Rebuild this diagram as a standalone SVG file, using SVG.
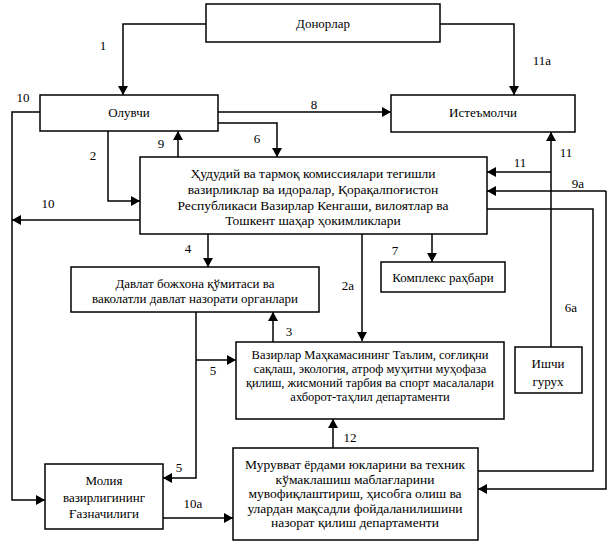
<svg xmlns="http://www.w3.org/2000/svg" width="613" height="548" viewBox="0 0 613 548">
<defs>
<marker id="ah" markerWidth="10" markerHeight="10" refX="9" refY="5" orient="auto-start-reverse" markerUnits="userSpaceOnUse">
<path d="M0,0 L9,5 L0,10 Z" fill="#000"/>
</marker>
<style>
.box{fill:#fff;stroke:#000;stroke-width:1.5}
text{fill:#000;text-anchor:middle}
.c{fill:none;stroke:#000;stroke-width:1.5}
.a{marker-end:url(#ah)}
</style>
</defs>
<rect width="613" height="548" fill="#fff"/>
<g id="connectors">
<path class="c a" d="M206,24 H123 V95"/>
<path class="c a" d="M440,24 H514 V95"/>
<path class="c a" d="M218,112 H391"/>
<path class="c a" d="M40,112 H12 V500 H45"/>
<path class="c a" d="M218,123 H277 V157"/>
<path class="c a" d="M108,131 V201 H140"/>
<path class="c a" d="M178,157 V131"/>
<path class="c a" d="M140,220 H12"/>
<path class="c a" d="M208,234 V267"/>
<path class="c a" d="M432,234 V262"/>
<path class="c a" d="M362,234 V341"/>
<path class="c a" d="M551,347 V132"/>
<path class="c a" d="M551,172 H487"/>
<path class="c a" d="M606,191 H487"/>
<path class="c a" d="M606,191 V489 H478"/>
<path class="c" d="M487,209 H593 V471 H478"/>
<path class="c a" d="M273,342 V312"/>
<path class="c a" d="M196,312 V478 H163"/>
<path class="c a" d="M196,360 H236"/>
<path class="c a" d="M163,518 H233"/>
<path class="c a" d="M333,448 V419"/>
</g>
<g id="labels" font-family="Liberation Serif, DejaVu Serif, serif" font-size="13">
<text x="103" y="50">1</text>
<text x="542" y="65">11а</text>
<text x="23" y="102">10</text>
<text x="314" y="109">8</text>
<text x="257" y="143">6</text>
<text x="161" y="148">9</text>
<text x="93" y="160">2</text>
<text x="520" y="167">11</text>
<text x="566" y="157">11</text>
<text x="578" y="188">9а</text>
<text x="48" y="208">10</text>
<text x="188" y="253">4</text>
<text x="395" y="255">7</text>
<text x="348" y="290">2а</text>
<text x="571" y="312">6а</text>
<text x="289" y="336">3</text>
<text x="213" y="375">5</text>
<text x="350" y="442">12</text>
<text x="179" y="472">5</text>
<text x="193" y="508">10а</text>
</g>
<g font-family="Liberation Serif, DejaVu Serif, serif" font-size="13">
<g id="donorlar">
<rect class="box" x="206" y="4" width="234" height="38"/>
<text x="323" y="28">Донорлар</text>
</g>
<g id="oluvchi">
<rect class="box" x="40" y="95" width="178" height="36"/>
<text x="129" y="117">Олувчи</text>
</g>
<g id="istemolchi">
<rect class="box" x="391" y="95" width="184" height="37"/>
<text x="483" y="117">Истеъмолчи</text>
</g>
<g id="hududiy" font-size="13.5">
<rect class="box" x="140" y="157" width="347" height="77"/>
<text x="313" y="178">Ҳудудий ва тармоқ комиссиялари тегишли</text>
<text x="313" y="194">вазирликлар ва идоралар, Қорақалпоғистон</text>
<text x="313" y="210">Республикаси Вазирлар Кенгаши, вилоятлар ва</text>
<text x="313" y="225">Тошкент шаҳар ҳокимликлари</text>
</g>
<g id="davlat">
<rect class="box" x="71" y="267" width="248" height="45"/>
<text x="195" y="288">Давлат божхона қўмитаси ва</text>
<text x="195" y="303">ваколатли давлат назорати органлари</text>
</g>
<g id="kompleks">
<rect class="box" x="381" y="262" width="124" height="30"/>
<text x="443" y="282">Комплекс раҳбари</text>
</g>
<g id="vm" font-size="12.5">
<rect class="box" x="236" y="342" width="268" height="77"/>
<text x="370" y="359">Вазирлар Маҳкамасининг Таълим, соғлиқни</text>
<text x="370" y="373">сақлаш, экология, атроф муҳитни муҳофаза</text>
<text x="370" y="387">қилиш, жисмоний тарбия ва спорт масалалари</text>
<text x="370" y="401">ахборот-таҳлил департаменти</text>
</g>
<g id="ishchi">
<rect class="box" x="515" y="347" width="67" height="46"/>
<text x="548" y="368">Ишчи</text>
<text x="548" y="386">гурух</text>
</g>
<g id="moliya">
<rect class="box" x="45" y="464" width="118" height="65"/>
<text x="104" y="485">Молия</text>
<text x="104" y="502">вазирлигининг</text>
<text x="104" y="518">Ғазначилиги</text>
</g>
<g id="muruvvat" font-size="13.5">
<rect class="box" x="233" y="448" width="245" height="92"/>
<text x="355" y="469">Мурувват ёрдами юкларини ва техник</text>
<text x="355" y="484">кўмаклашиш маблағларини</text>
<text x="355" y="498">мувофиқлаштириш, ҳисобга олиш ва</text>
<text x="355" y="513">улардан мақсадли фойдаланилишини</text>
<text x="355" y="527">назорат қилиш департаменти</text>
</g>
</g>
</svg>
